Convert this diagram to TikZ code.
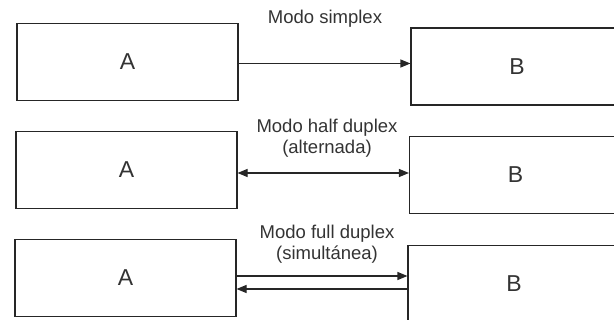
\documentclass[tikz,border=0pt]{standalone}
\usepackage{fontspec}
\setmainfont{Liberation Sans}
\usetikzlibrary{arrows.meta}
\begin{document}
\begin{tikzpicture}[x=1pt,y=-1pt,
  box/.style={draw=black!85, line width=1.1pt, rectangle, inner sep=0pt,
    minimum width=#1, minimum height=77pt, font=\fontsize{23}{26}\selectfont, text=black!80},
  box/.default=221pt,
  lbl/.style={align=center, font=\fontsize{18.5}{21.5}\selectfont, text=black!80, inner sep=0pt},
  conn/.style={line width=1.1pt, draw=black!85, -{Triangle[length=10pt,width=8pt]}},
  conn2/.style={line width=1.1pt, draw=black!85, {Triangle[length=10pt,width=8pt]}-{Triangle[length=10pt,width=8pt]}}
]
\useasboundingbox (0,0) rectangle (614,320);
% row 1
\node[box] (A1) at (127.5,62) {A};
\node[box=212pt] (B1) at (517,66.5) {B};
\node[lbl] (L1) at (325,19) {Modo simplex};
\draw[conn] ([yshift=-1.5pt]A1.east) -- ([yshift=-1.5pt]A1.east -| B1.west);
% row 2
\node[box] (A2) at (126.5,170) {A};
\node[box=212pt] (B2) at (515.5,175) {B};
\node[lbl] (L2) at (327,138) {Modo half duplex\\(alternada)};
\draw[conn2] ([yshift=-3pt]A2.east) -- ([yshift=-3pt]A2.east -| B2.west);
% row 3
\node[box] (A3) at (125.5,278) {A};
\node[box=212pt] (B3) at (514,284) {B};
\node[lbl] (L3) at (327,244) {Modo full duplex\\(simultánea)};
\draw[conn] ([yshift=2pt]A3.east) -- ([yshift=2pt]A3.east -| B3.west);
\draw[conn] ([yshift=-11pt]A3.east -| B3.west) -- ([yshift=-11pt]A3.east);
\end{tikzpicture}
\end{document}
